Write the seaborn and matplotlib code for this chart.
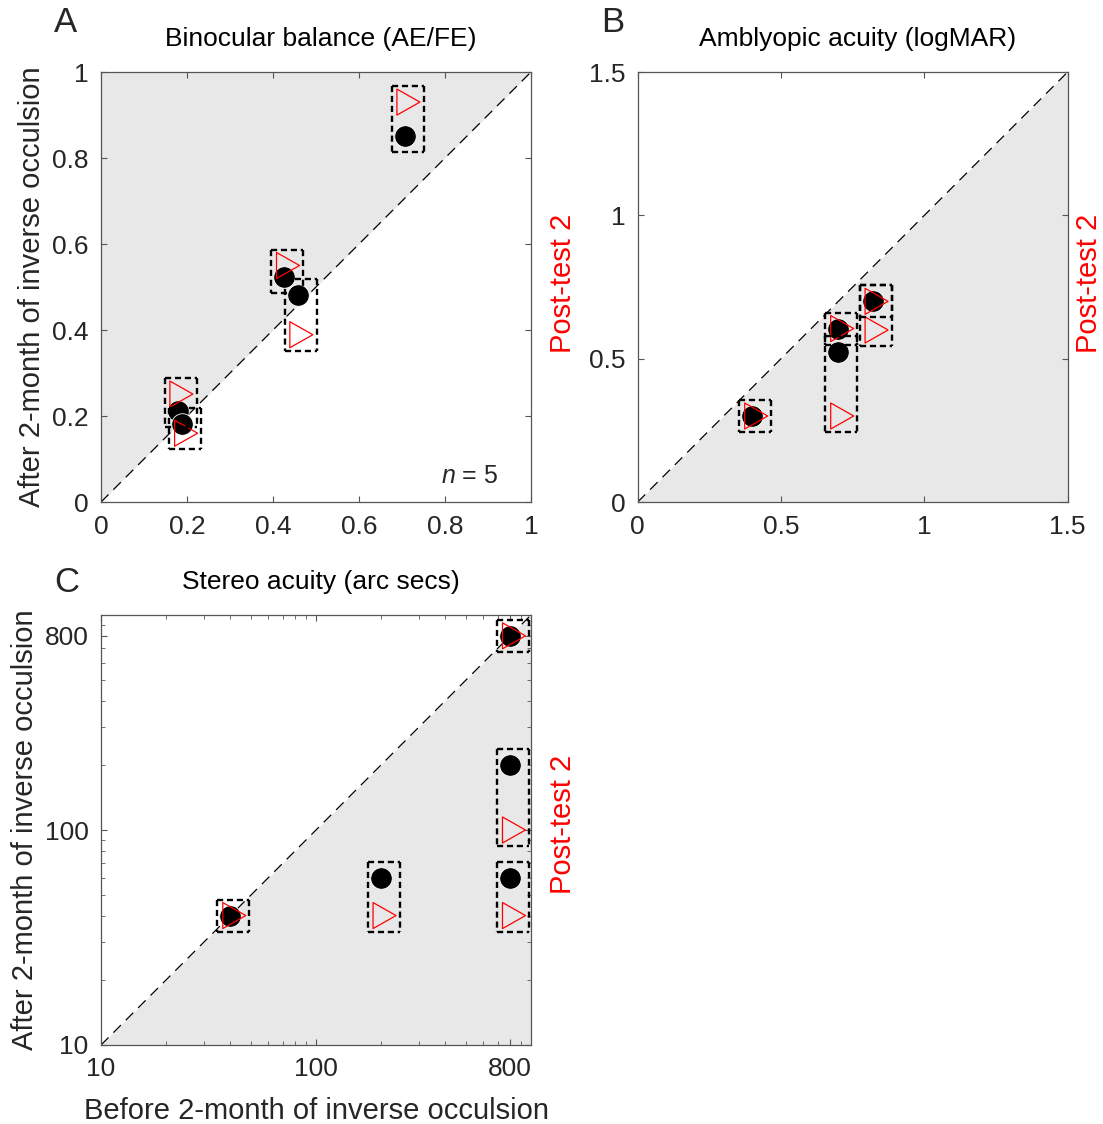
import matplotlib
matplotlib.use("Agg")
import matplotlib.pyplot as plt
from matplotlib.path import Path
from matplotlib.ticker import FixedLocator, FixedFormatter, LogLocator, NullFormatter
import seaborn as sns

# A: binocular balance (AE/FE), before vs post-test 1 (dots) / post-test 2 (triangles)
bal_before = [0.706, 0.426, 0.457, 0.178, 0.189]
bal_post1 = [0.852, 0.523, 0.482, 0.212, 0.181]
bal_post2 = [0.930, 0.550, 0.389, 0.251, 0.160]
bal_ticks = [0, 0.2, 0.4, 0.6, 0.8, 1]
bal_labels = ['0', '0.2', '0.4', '0.6', '0.8', '1']

# B: amblyopic acuity (logMAR)
acu_before = [0.40, 0.70, 0.70, 0.82, 0.82]
acu_post1 = [0.30, 0.605, 0.524, 0.70, 0.70]
acu_post2 = [0.30, 0.605, 0.30, 0.70, 0.60]
acu_ticks = [0, 0.5, 1, 1.5]
acu_labels = ['0', '0.5', '1', '1.5']

# C: stereo acuity (arc secs)
st_before = [40, 200, 800, 800, 800]
st_post1 = [40, 60, 200, 60, 800]
st_post2 = [40, 40, 100, 40, 800]
st_ticks = [10, 100, 800]
st_labels = ['10', '100', '800']

sns.set_theme(style="ticks")
plt.rcParams['font.family'] = ['Liberation Sans', 'DejaVu Sans']
plt.rcParams['mathtext.fontset'] = 'custom'
plt.rcParams['mathtext.it'] = 'Liberation Sans:italic'
plt.rcParams['mathtext.rm'] = 'Liberation Sans'

GREY = '#e8e8e8'
AX_PX = 430.0

# open triangle pointing right, centred on its centroid (like the original)
tri = Path([(-0.5, 0.848), (1.0, 0.0), (-0.5, -0.848), (-0.5, 0.848)], closed=True)

fig = plt.figure(figsize=(11.03, 11.24), dpi=100)
W, H = 1103.0, 1124.0


def make_ax(left_px, bottom_px):
    return fig.add_axes([left_px / W, 1 - bottom_px / H, AX_PX / W, AX_PX / H])


def style_ax(ax):
    for s in ax.spines.values():
        s.set_color('#555555')
        s.set_linewidth(0.9)
    ax.tick_params(which='both', direction='in', top=True, right=True,
                   labelsize=19, labelcolor='#262626', color='#555555')
    ax.tick_params(which='major', length=4.5, width=0.8, pad=9)
    ax.tick_params(which='minor', length=3, width=0.6)


def draw_boxes(ax, xs, y1, y2):
    # dashed box round each subject's pair, drawn edge by edge so that
    # coinciding edges keep the same dash phase
    to_ax = ax.transData + ax.transAxes.inverted()
    kw = dict(transform=ax.transAxes, color='black', lw=1.7,
              ls=(0, (2.6, 1.6)), zorder=6, clip_on=False, solid_capstyle='butt')
    for x, a, b in zip(xs, y1, y2):
        fx, fa = to_ax.transform((x, a))
        _, fb = to_ax.transform((x, b))
        lo = min(fa, fb) - 16 / AX_PX
        hi = max(fa, fb) + 16 / AX_PX
        l, r = fx - 13 / AX_PX, fx + 19 / AX_PX
        ax.plot([l, r], [hi, hi], **kw)
        ax.plot([l, r], [lo, lo], **kw)
        ax.plot([l, l], [hi, lo], **kw)
        ax.plot([r, r], [hi, lo], **kw)


def panel(ax, before, post1, post2, lim, upper, log=False):
    lo, hi = lim
    if log:
        ax.set_xscale('log')
        ax.set_yscale('log')
    ax.set_xlim(lo, hi)
    ax.set_ylim(lo, hi)
    if upper:
        ax.fill_between([lo, hi], [lo, hi], hi, color=GREY, lw=0, zorder=0)
    else:
        ax.fill_between([lo, hi], lo, [lo, hi], color=GREY, lw=0, zorder=0)
    ax.plot([lo, hi], [lo, hi], color='black', lw=0.9, ls=(0, (8.5, 5.5)), zorder=1)
    sns.scatterplot(x=before, y=post1, ax=ax, marker='o', s=240, color='black',
                    edgecolor='white', linewidth=0.6, zorder=3, legend=False)
    sns.scatterplot(x=before, y=post2, ax=ax, marker=tri, s=488, facecolors='none',
                    edgecolor='red', linewidth=0.9, zorder=4, legend=False)
    draw_boxes(ax, before, post1, post2)
    ax.set_xlim(lo, hi)
    ax.set_ylim(lo, hi)
    style_ax(ax)
    ax.set_xlabel('')
    ax.set_ylabel('')


# A
axA = make_ax(101, 502)
panel(axA, bal_before, bal_post1, bal_post2, (0, 1), upper=True)
axA.set_xticks(bal_ticks, bal_labels)
axA.set_yticks(bal_ticks, bal_labels)
axA.text(0.858, 0.06, r'$\it{n}$ = 5', transform=axA.transAxes, ha='center',
         va='center', fontsize=18)

# B
axB = make_ax(637.7, 502)
panel(axB, acu_before, acu_post1, acu_post2, (0, 1.5), upper=False)
axB.set_xticks(acu_ticks, acu_labels)
axB.set_yticks(acu_ticks, acu_labels)

# C
axC = make_ax(101, 1045)
panel(axC, st_before, st_post1, st_post2, (10, 1000), upper=False, log=True)
for axis in (axC.xaxis, axC.yaxis):
    axis.set_major_locator(FixedLocator(st_ticks))
    axis.set_major_formatter(FixedFormatter(st_labels))
    axis.set_minor_locator(LogLocator(base=10, subs=range(2, 10)))
    axis.set_minor_formatter(NullFormatter())

# titles, labels
titles = [(axA, 'Binocular balance (AE/FE)'), (axB, 'Amblyopic acuity (logMAR)'),
          (axC, 'Stereo acuity (arc secs)')]
for ax, t in titles:
    ax.text(0.512, 1.076, t, transform=ax.transAxes, ha='center', va='center',
            fontsize=19, color='black')

for ax, xpos, ypos in [(axA, 1.074, 0.509), (axB, 1.05, 0.509), (axC, 1.074, 0.514)]:
    ax.text(xpos, ypos, 'Post-test 2', transform=ax.transAxes, rotation=90,
            ha='center', va='center', fontsize=21, color='red')

axA.text(-0.16, 0.5, 'After 2-month of inverse occulsion', transform=axA.transAxes,
         rotation=90, ha='center', va='center', fontsize=21)
axC.text(-0.177, 0.5, 'After 2-month of inverse occulsion', transform=axC.transAxes,
         rotation=90, ha='center', va='center', fontsize=21)
axC.text(0.5, -0.153, 'Before 2-month of inverse occulsion', transform=axC.transAxes,
         ha='center', va='center', fontsize=21)

for lab, xp, yp in [('A', 66, 23), ('B', 613, 23), ('C', 67, 583)]:
    fig.text(xp / W, 1 - yp / H, lab, ha='center', va='center', fontsize=25)

fig.savefig('out.png', dpi=100)
